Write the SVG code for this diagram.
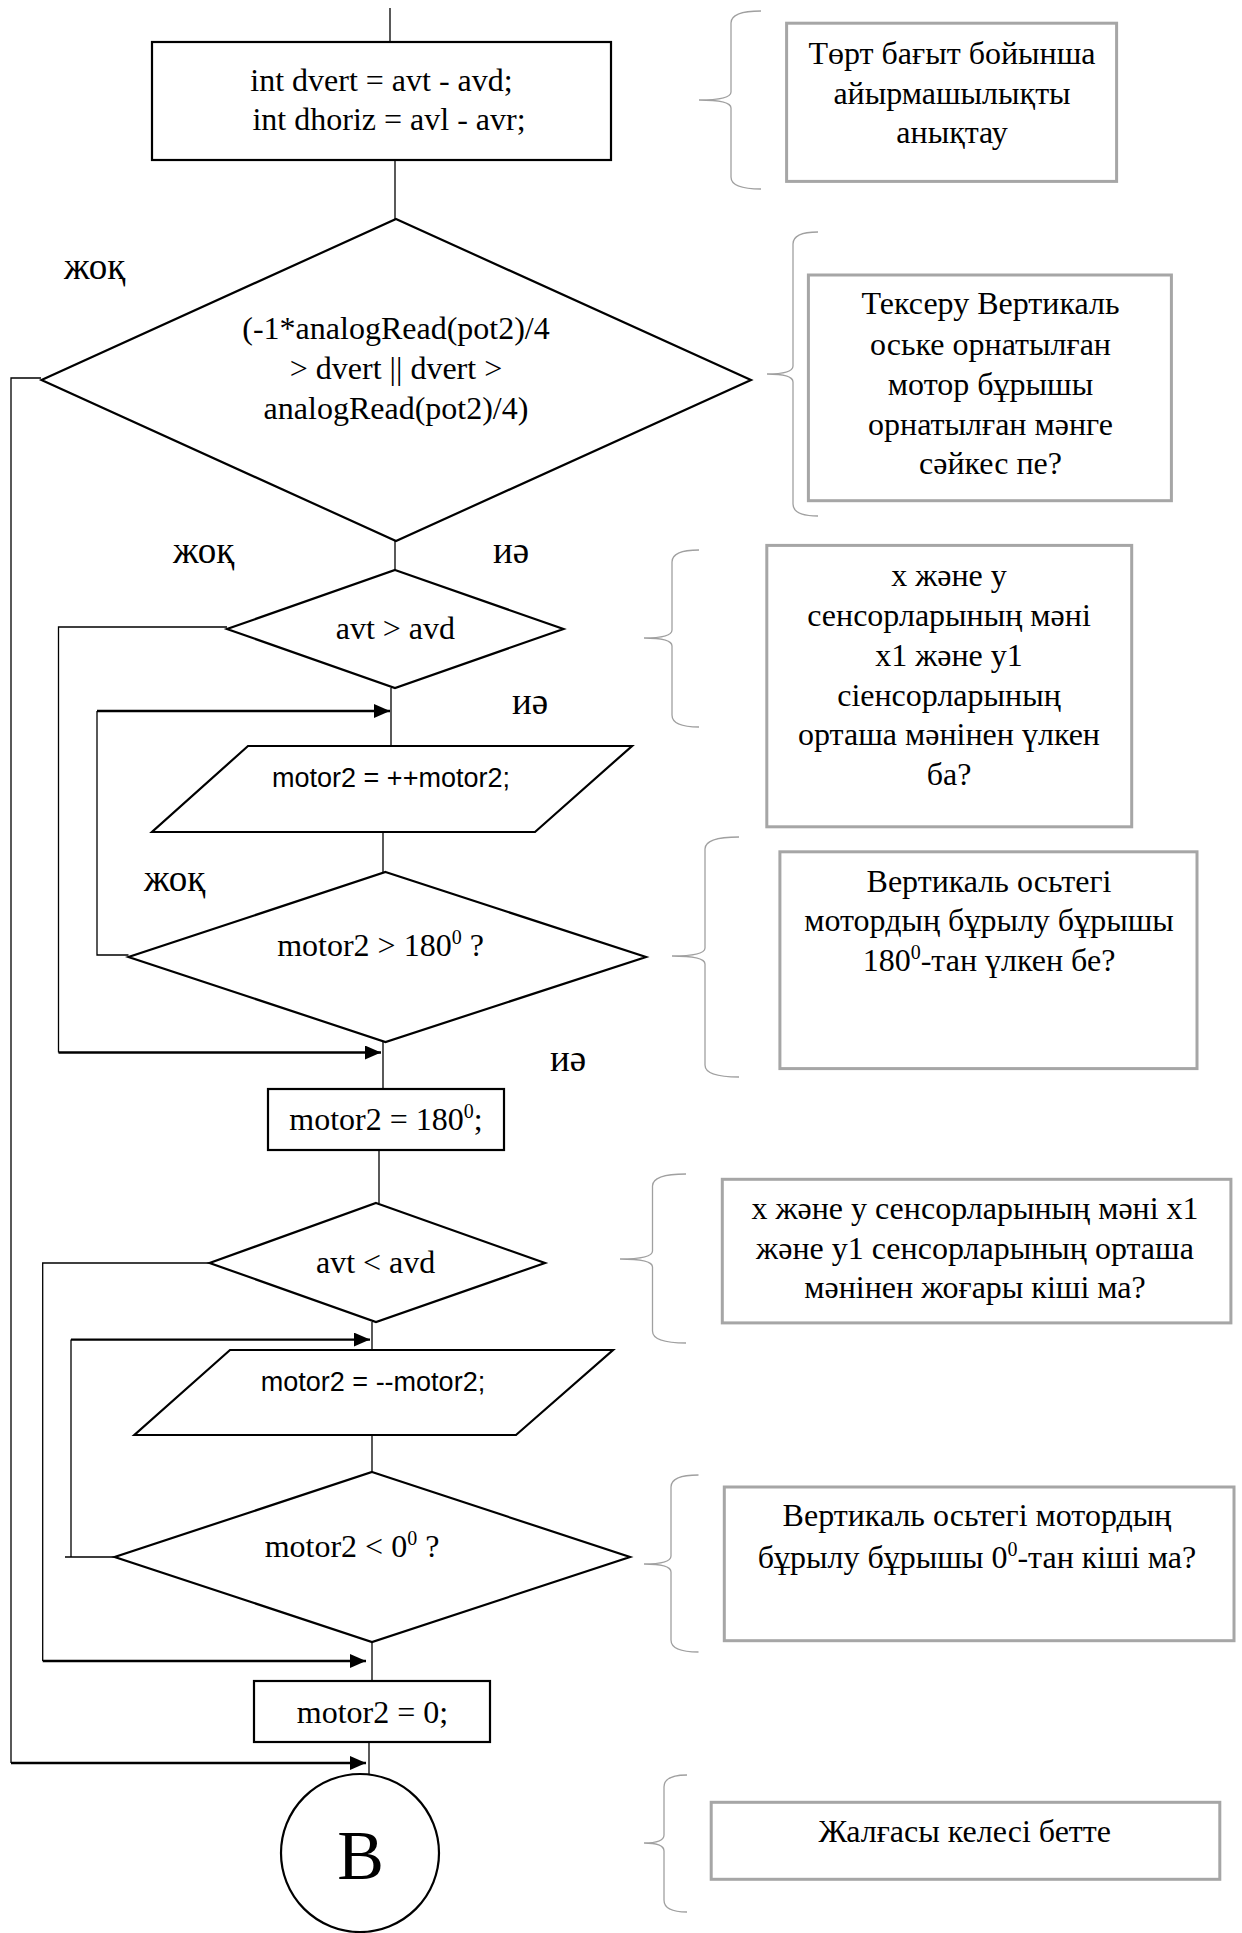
<svg xmlns="http://www.w3.org/2000/svg" width="1242" height="1933" viewBox="0 0 1242 1933">
<defs>
<marker id="ah" markerUnits="userSpaceOnUse" markerWidth="16" markerHeight="14" refX="16" refY="7" orient="auto">
<path d="M0,0 L16,7 L0,14 Z" fill="#000"/>
</marker>
<style>
.s{fill:#fff;stroke:#000;stroke-width:2.2}
.c{fill:none;stroke:#000;stroke-width:1.3}
.a{fill:none;stroke:#000;stroke-width:2.4}
.n{fill:#fff;stroke:#a6a6a6;stroke-width:3}
.b{fill:none;stroke:#a0a0a0;stroke-width:1.3}
text{font-family:"Liberation Serif","Times New Roman",serif;font-size:32px;fill:#000}
.m{text-anchor:middle}
.sans{font-family:"Liberation Sans",Arial,sans-serif;font-size:27px}
.lbl{font-size:37px}
.big{font-size:70px}
.sup{font-size:20px}
</style>
</defs>
<rect width="1242" height="1933" fill="#fff"/>

<g id="connectors">
<path class="c" d="M390,8 V42"/>
<path class="c" d="M395,160 V219"/>
<path class="c" d="M395,541 V570"/>
<path class="c" d="M41,378 H11 V1763"/>
<path class="a" d="M11,1763 H366" marker-end="url(#ah)"/>
<path class="c" d="M391,688 V746"/>
<path class="c" d="M227,627 H58.5 V1052.5"/>
<path class="a" d="M58.5,1052.5 H381" marker-end="url(#ah)"/>
<path class="c" d="M128.5,955 H97 V711"/>
<path class="a" d="M97,711 H390" marker-end="url(#ah)"/>
<path class="c" d="M383,832 V872"/>
<path class="c" d="M383,1042 V1089"/>
<path class="c" d="M379,1150 V1203"/>
<path class="c" d="M209.6,1263 H42.7 V1661"/>
<path class="a" d="M42.7,1661 H366" marker-end="url(#ah)"/>
<path class="c" d="M372,1322 V1350"/>
<path class="c" d="M114.7,1557 H65 M71,1557 V1339.6"/>
<path class="a" d="M71,1339.6 H370" marker-end="url(#ah)"/>
<path class="c" d="M372,1435 V1472"/>
<path class="c" d="M372,1642 V1681"/>
<path class="c" d="M369,1742 V1774"/>
</g>

<g id="labels">
<text class="lbl" x="64" y="279">жоқ</text>
<text class="lbl" x="173" y="563">жоқ</text>
<text class="lbl" x="493" y="563">иә</text>
<text class="lbl" x="512" y="714">иә</text>
<text class="lbl" x="144" y="891">жоқ</text>
<text class="lbl" x="550" y="1071">иә</text>
</g>

<g id="r1">
<rect class="s" x="152" y="42" width="459" height="118"/>
<text class="m" x="381.5" y="91">int dvert = avt - avd;</text>
<text class="m" x="389" y="130">int dhoriz = avl - avr;</text>
</g>

<g id="d1">
<polygon class="s" points="396,219 751,380 396,541 41.5,380"/>
<text class="m" x="396" y="339">(-1*analogRead(pot2)/4</text>
<text class="m" x="396" y="379">&gt; dvert || dvert &gt;</text>
<text class="m" x="396" y="419">analogRead(pot2)/4)</text>
</g>

<g id="d2">
<polygon class="s" points="395,570 563.5,629 395,688 227,629"/>
<text class="m" x="395.4" y="639">avt &gt; avd</text>
</g>

<g id="p1">
<polygon class="s" points="248,746 632,746 535,832 152,832"/>
<text class="m sans" x="391" y="787">motor2 = ++motor2;</text>
</g>

<g id="d3">
<polygon class="s" points="385.5,872 646,957 385.5,1042 128.5,957"/>
<text class="m" x="380.5" y="956">motor2 &gt; 180<tspan class="sup" dy="-12">0</tspan><tspan dy="12"> ?</tspan></text>
</g>

<g id="r2">
<rect class="s" x="268" y="1089" width="236" height="61"/>
<text class="m" x="386" y="1130">motor2 = 180<tspan class="sup" dy="-12">0</tspan><tspan dy="12">;</tspan></text>
</g>

<g id="d4">
<polygon class="s" points="376,1203 545,1263 376,1322 209.6,1263"/>
<text class="m" x="375.6" y="1273">avt &lt; avd</text>
</g>

<g id="p2">
<polygon class="s" points="230,1350 613,1350 516,1435 134.4,1435"/>
<text class="m sans" x="373" y="1391">motor2 = --motor2;</text>
</g>

<g id="d5">
<polygon class="s" points="372,1472 630,1557 372,1642 114.7,1557"/>
<text class="m" x="352" y="1557">motor2 &lt; 0<tspan class="sup" dy="-12">0</tspan><tspan dy="12"> ?</tspan></text>
</g>

<g id="r3">
<rect class="s" x="254" y="1681" width="236" height="61"/>
<text class="m" x="372.5" y="1723">motor2 = 0;</text>
</g>

<g id="conn-b">
<circle class="s" cx="360" cy="1853" r="79"/>
<text class="m big" x="360.5" y="1879">B</text>
</g>

<g id="braces">
<path class="b" d="M761,11 Q731,11 731,23 V92 Q731,100 699,100 Q731,100 731,108 V177 Q731,189 761,189"/>
<path class="b" d="M818,232 Q793,232 793,244 V366 Q793,374 767,374 Q793,374 793,382 V504 Q793,516 818,516"/>
<path class="b" d="M699,550 Q672,550 672,562 V630 Q672,638 644,638 Q672,638 672,646 V715 Q672,727 699,727"/>
<path class="b" d="M739,837 Q705,837 705,849 V948 Q705,956 672,956 Q705,956 705,964 V1065 Q705,1077 739,1077"/>
<path class="b" d="M686,1174 Q652.5,1174 652.5,1186 V1251 Q652.5,1259 620,1259 Q652.5,1259 652.5,1267 V1331 Q652.5,1343 686,1343"/>
<path class="b" d="M698.5,1475 Q671,1475 671,1487 V1556 Q671,1564 644,1564 Q671,1564 671,1572 V1640 Q671,1652 698.5,1652"/>
<path class="b" d="M687,1775 Q664,1775 664,1787 V1835 Q664,1843 644,1843 Q664,1843 664,1851 V1900 Q664,1912 687,1912"/>
</g>

<g id="a1">
<rect class="n" x="786.6" y="23.2" width="330" height="158.2"/>
<text class="m" x="952" y="64">Төрт бағыт бойынша</text>
<text class="m" x="952" y="104">айырмашылықты</text>
<text class="m" x="952" y="143">анықтау</text>
</g>

<g id="a2">
<rect class="n" x="808.4" y="275" width="363" height="225.7"/>
<text class="m" x="990.5" y="314">Тексеру Вертикаль</text>
<text class="m" x="990.5" y="355">оське орнатылған</text>
<text class="m" x="990.5" y="395">мотор бұрышы</text>
<text class="m" x="990.5" y="435">орнатылған мәнге</text>
<text class="m" x="990.5" y="474">сәйкес пе?</text>
</g>

<g id="a3">
<rect class="n" x="766.8" y="545.4" width="364.9" height="281.4"/>
<text class="m" x="949" y="586">х және у</text>
<text class="m" x="949" y="626">сенсорларының мәні</text>
<text class="m" x="949" y="666">х1 және у1</text>
<text class="m" x="949" y="706">сіенсорларының</text>
<text class="m" x="949" y="745">орташа мәнінен үлкен</text>
<text class="m" x="949" y="785">ба?</text>
</g>

<g id="a4">
<rect class="n" x="779.9" y="851.8" width="417.1" height="216.8"/>
<text class="m" x="989" y="892">Вертикаль осьтегі</text>
<text class="m" x="989" y="931">мотордың бұрылу бұрышы</text>
<text class="m" x="989" y="971">180<tspan class="sup" dy="-12">0</tspan><tspan dy="12">-тан үлкен бе?</tspan></text>
</g>

<g id="a5">
<rect class="n" x="722.3" y="1179.3" width="508.6" height="143.6"/>
<text class="m" x="975" y="1219">х және у сенсорларының мәні х1</text>
<text class="m" x="975" y="1258.6">және у1 сенсорларының орташа</text>
<text class="m" x="975" y="1298">мәнінен жоғары кіші ма?</text>
</g>

<g id="a6">
<rect class="n" x="724.3" y="1487" width="509.7" height="153.7"/>
<text class="m" x="977" y="1526">Вертикаль осьтегі мотордың</text>
<text class="m" x="977" y="1567.5">бұрылу бұрышы 0<tspan class="sup" dy="-12">0</tspan><tspan dy="12">-тан кіші ма?</tspan></text>
</g>

<g id="a7">
<rect class="n" x="711.2" y="1802.3" width="508.6" height="77"/>
<text class="m" x="964.7" y="1842">Жалғасы келесі бетте</text>
</g>
</svg>
